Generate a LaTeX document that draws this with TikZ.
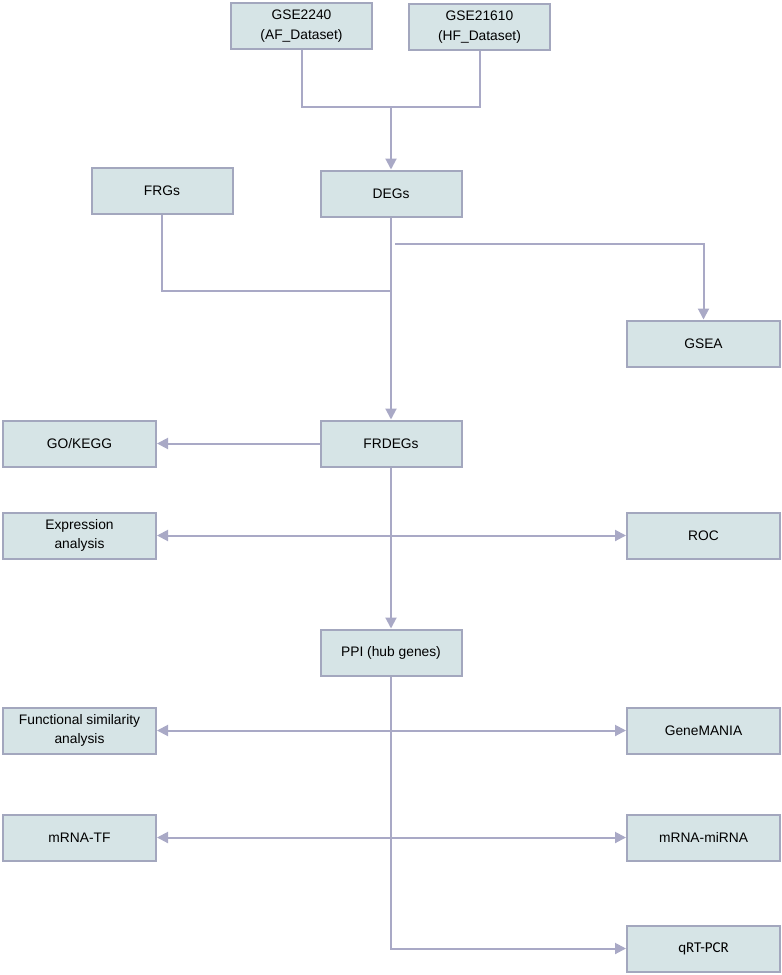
\documentclass[tikz,border=0pt]{standalone}
\usepackage{fontspec}
\setmainfont{Liberation Sans}
\newfontfamily\calfont{Carlito}
\usepackage{xcolor}
\usetikzlibrary{arrows.meta}
\definecolor{boxfill}{HTML}{D6E4E6}
\definecolor{boxedge}{HTML}{A3A7BE}
\definecolor{linkcol}{HTML}{A9A9C6}
\tikzset{%
  box/.style={draw=boxedge, fill=boxfill, line width=2pt, minimum height=46pt, align=center, inner sep=2pt, font=\fontsize{13.8}{19.5}\selectfont},
  mid box/.style={box, minimum width=141pt},
  side box/.style={box, minimum width=153pt},
  link/.style={draw=linkcol, line width=2pt},
  arr/.style={link, -{Triangle[length=11pt, width=11pt]}},
  darr/.style={link, {Triangle[length=11pt, width=11pt]}-{Triangle[length=11pt, width=11pt]}}
}

\begin{document}
\begin{tikzpicture}[x=1pt, y=-1pt]
    % \draw[help lines, gray] (0, 0) grid[step=50] (782, 975);
    \useasboundingbox (0, 0) rectangle (782, 975);

    \node[mid box] (gseaf) at (301.5, 26) {GSE2240\\(AF\_Dataset)};
    \node[mid box] (gsehf) at (479.5, 27) {GSE21610\\(HF\_Dataset)};
    \node[mid box] (frg) at (162, 191) {FRGs};
    \node[mid box] (deg) at (391, 193.5) {DEGs};
    \node[side box] (gsea) at (703.5, 343.5) {GSEA};
    \node[mid box] (frdeg) at (391, 443.5) {FRDEGs};
    \node[side box] (gokegg) at (79.5, 443.5) {GO/KEGG};
    \node[side box] (expr) at (79.5, 535.5) {Expression\\analysis};
    \node[side box] (roc) at (703.5, 535.5) {ROC};
    \node[mid box] (ppi) at (391, 652.5) {PPI (hub genes)};
    \node[side box] (func) at (79.5, 730.5) {Functional similarity\\analysis};
    \node[side box] (genemania) at (703.5, 730.5) {GeneMANIA};
    \node[side box] (mrnatf) at (79.5, 837.5) {mRNA-TF};
    \node[side box] (mirna) at (703.5, 837.5) {mRNA-miRNA};
    \node[side box, font=\calfont\fontsize{15}{18}\selectfont] (qpcr) at (703.5, 948.5) {qRT-PCR};

    \coordinate (joindata) at (391, 107);
    \coordinate (joinfrg) at (391, 291);
    \coordinate (splitgsea) at (395, 244);

    \draw[link] (gseaf.south) |- (joindata) -| (gsehf.south);
    \draw[arr] (joindata) -- (deg.north);
    \draw[link] (frg.south) |- (joinfrg);
    \draw[arr] (splitgsea) -| (gsea.north);
    \draw[arr] (deg.south) -- (frdeg.north);
    \draw[arr] (frdeg.west) -- (gokegg.east);
    \draw[darr] (expr.east) -- (roc.west);
    \draw[arr] (frdeg.south) -- (ppi.north);
    \draw[darr] (func.east) -- (genemania.west);
    \draw[darr] (mrnatf.east) -- (mirna.west);
    \draw[arr] (ppi.south) |- (qpcr.west);
\end{tikzpicture}
\end{document}
